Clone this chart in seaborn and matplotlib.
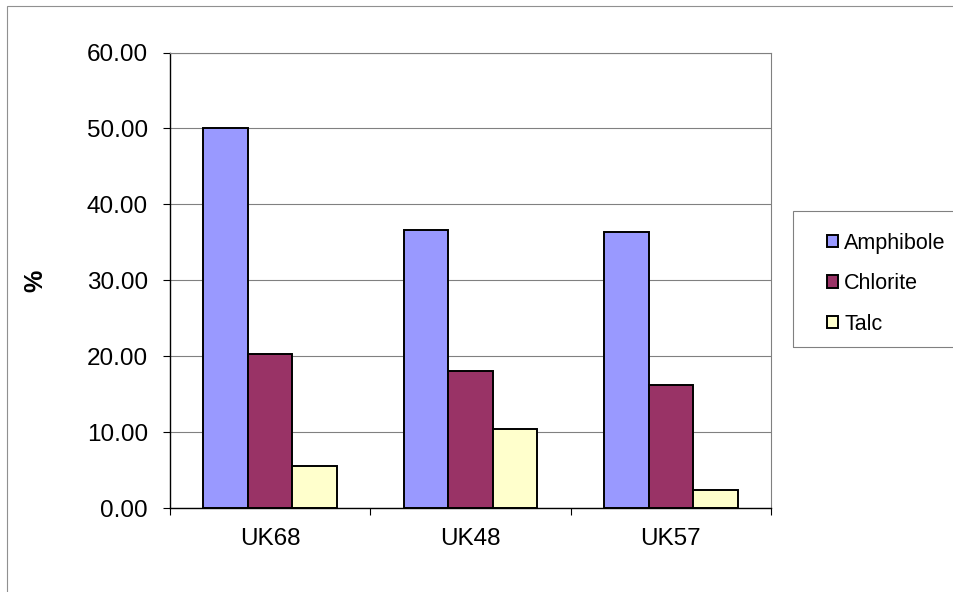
import pandas as pd
import matplotlib
matplotlib.use("Agg")
import matplotlib.pyplot as plt
import matplotlib.ticker as mticker
from matplotlib.patches import Rectangle
import seaborn as sns

samples = ["UK68", "UK48", "UK57"]
minerals = ["Amphibole", "Chlorite", "Talc"]
amphibole = [50.0, 36.6, 36.4]
chlorite = [20.3, 18.1, 16.2]
talc = [5.6, 10.4, 2.4]
colores = ["#9999FF", "#993366", "#FFFFCC"]

df = pd.DataFrame({
    "Sample": samples * 3,
    "Mineral": [m for m in minerals for _ in samples],
    "Percent": amphibole + chlorite + talc,
})

sns.set_style("white")
plt.rcParams["font.family"] = ["Liberation Sans", "DejaVu Sans"]
plt.rcParams["text.color"] = "black"
plt.rcParams["axes.labelcolor"] = "black"
plt.rcParams["xtick.color"] = "black"
plt.rcParams["ytick.color"] = "black"

fig = plt.figure(figsize=(9.54, 5.92), dpi=100)
ax = fig.add_axes([170 / 954, 1 - 508.3 / 592, 601 / 954, (508.3 - 52.5) / 592])

sns.barplot(data=df, x="Sample", y="Percent", hue="Mineral", palette=colores,
            width=0.667, gap=0, saturation=1, errorbar=None,
            edgecolor="black", linewidth=1.4, ax=ax)

ax.set_xlim(-0.5, 2.5)
ax.set_ylim(0, 60)
ax.yaxis.set_major_locator(mticker.MultipleLocator(10))
ax.yaxis.set_major_formatter(mticker.FormatStrFormatter("%.2f"))
ax.set_axisbelow(True)
ax.grid(axis="y", color="#808080", linewidth=0.8)
ax.grid(axis="x", visible=False)

ax.xaxis.set_minor_locator(mticker.FixedLocator([-0.5, 0.5, 1.5, 2.5]))
ax.tick_params(axis="x", which="major", length=0, pad=14, labelsize=17.5, labelcolor="black")
ax.tick_params(axis="x", which="minor", length=5, width=0.8, color="black", direction="out", bottom=True)
ax.tick_params(axis="y", length=5, width=0.8, color="black", direction="out", left=True, pad=11,
               labelsize=17.5, labelcolor="black")

for side in ["left", "bottom"]:
    ax.spines[side].set_color("black")
    ax.spines[side].set_linewidth(1.0)
for side in ["top", "right"]:
    ax.spines[side].set_color("#808080")
    ax.spines[side].set_linewidth(0.8)

ax.set_xlabel("")
ax.set_ylabel("%", fontsize=18, fontweight="bold", color="black")
ax.yaxis.set_label_coords(-0.2047, 0.5)

handles, labels = ax.get_legend_handles_labels()
ax.legend_.remove()
fig.legend(handles, labels, loc="upper left", bbox_to_anchor=(816 / 954, 1 - 222 / 592),
           frameon=False, borderpad=0, fontsize=15.5, handlelength=0.51, handleheight=0.51,
           handletextpad=0.3, labelspacing=0.9, labelcolor="black")

# caja de leyenda y borde del grafico
fig.patches.append(Rectangle((793 / 954, 1 - 347 / 592), 0.3, 136 / 592, transform=fig.transFigure,
                             fill=False, edgecolor="#808080", linewidth=0.8))
fig.patches.append(Rectangle((7 / 954, -0.1), 1.2, 1.1 - 6 / 592, transform=fig.transFigure,
                             fill=False, edgecolor="#909090", linewidth=0.8))

plt.savefig("out.png", dpi=100)
